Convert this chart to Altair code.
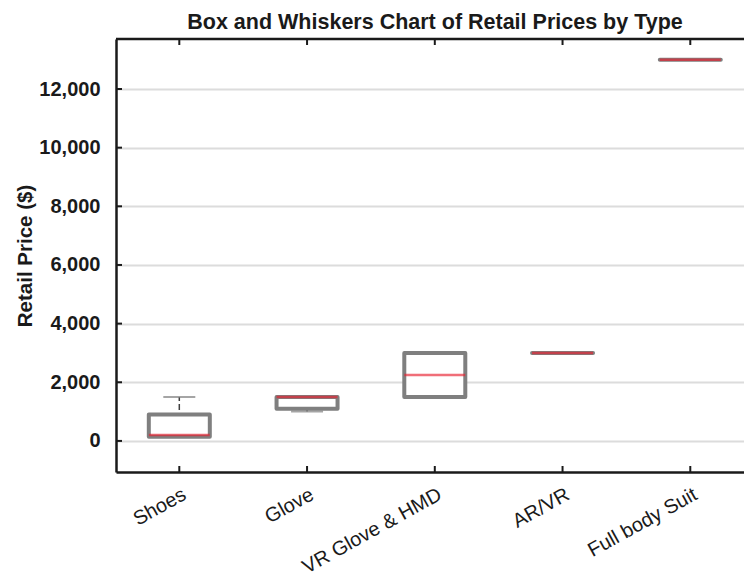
import altair as alt
import pandas as pd

# ---- data ----
types = ["Shoes", "Glove", "VR Glove & HMD", "AR/VR", "Full body Suit"]
mins = [130, 1000, 1500, 3000, 13000]
q1s = [140, 1100, 1500, 3000, 13000]
medians = [200, 1500, 2250, 3000, 13000]
q3s = [900, 1500, 3000, 3000, 13000]
maxs = [1500, 1500, 3000, 3000, 13000]
y_ticks = [0, 2000, 4000, 6000, 8000, 10000, 12000]

df = pd.DataFrame({"type": types, "min": mins, "q1": q1s, "median": medians,
                   "q3": q3s, "max": maxs})
tick_df = pd.DataFrame({"v": y_ticks})
one_df = pd.DataFrame({"a": [0]})

W, H = 628, 433
TXT = "#1a1a1a"
FONT = "Liberation Sans"

x_scale = alt.Scale(type="point", padding=0.458, align=0.541)
y_scale = alt.Scale(domain=[-1060, 13705], nice=False, zero=False)

x_axis = alt.Axis(title=None, labelAngle=-29, labelAlign="right", labelBaseline="top",
                  labelFont=FONT, labelFontSize=20, labelColor=TXT, labelPadding=12,
                  ticks=False, domainColor=TXT, domainWidth=2.5, grid=False)
y_axis = alt.Axis(title="Retail Price ($)", values=y_ticks, format=",.0f", ticks=False,
                  labelFont=FONT, labelFontSize=20, labelFontWeight="bold", labelColor=TXT,
                  labelPadding=16, titleFont=FONT, titleFontSize=20.5, titleFontWeight="bold",
                  titleColor=TXT, titlePadding=3, domainColor=TXT, domainWidth=2.5,
                  grid=True, gridColor="#dcdcdc", gridWidth=2)


def xe():
    return alt.X("type:N", sort=types, scale=x_scale, axis=x_axis)


def ye(field):
    return alt.Y(f"{field}:Q", scale=y_scale, axis=y_axis)


base = alt.Chart(df)

whisker = base.mark_rule(color="#404040", strokeWidth=1.5, strokeDash=[6, 3]).encode(
    x=xe(), y=ye("min"), y2="max:Q")
cap_lo = base.mark_tick(size=32, thickness=2, color="#7f7f7f").encode(x=xe(), y=ye("min"))
cap_hi = base.mark_tick(size=32, thickness=2, color="#7f7f7f").encode(x=xe(), y=ye("max"))
box = base.mark_bar(size=61, fill="white", stroke="#7f7f7f", strokeWidth=4,
                    strokeJoin="round").encode(x=xe(), y=ye("q1"), y2="q3:Q")
median = base.mark_tick(size=61, thickness=2.5, color="#e8202f", opacity=0.65).encode(
    x=xe(), y=ye("median"))

# inward tick marks and top frame line
y_in_ticks = alt.Chart(tick_df).mark_rule(color=TXT, strokeWidth=2).encode(
    x=alt.value(0), x2=alt.value(6), y=ye("v"))
x_in_bottom = base.mark_rule(color=TXT, strokeWidth=2).encode(
    x=xe(), y=alt.value(H - 6), y2=alt.value(H))
x_in_top = base.mark_rule(color=TXT, strokeWidth=2).encode(
    x=xe(), y=alt.value(0), y2=alt.value(6))
top_frame = alt.Chart(one_df).mark_rule(color=TXT, strokeWidth=2.5).encode(
    x=alt.value(0), x2=alt.value(W), y=alt.value(0))

chart = alt.layer(
    whisker, cap_lo, cap_hi, box, median, y_in_ticks, x_in_bottom, x_in_top, top_frame
).properties(
    width=W, height=H,
    title=alt.TitleParams("Box and Whiskers Chart of Retail Prices by Type", font=FONT,
                          fontSize=21.5, fontWeight="bold", color=TXT, dx=5, offset=4,
                          anchor="middle"),
    autosize=alt.AutoSizeParams(type="none"),
    padding={"left": 116, "top": 39, "right": 0, "bottom": 100},
).configure_view(stroke=None).configure(background="white")

chart.save("out.html", embed_options={"renderer": "svg", "actions": False})
